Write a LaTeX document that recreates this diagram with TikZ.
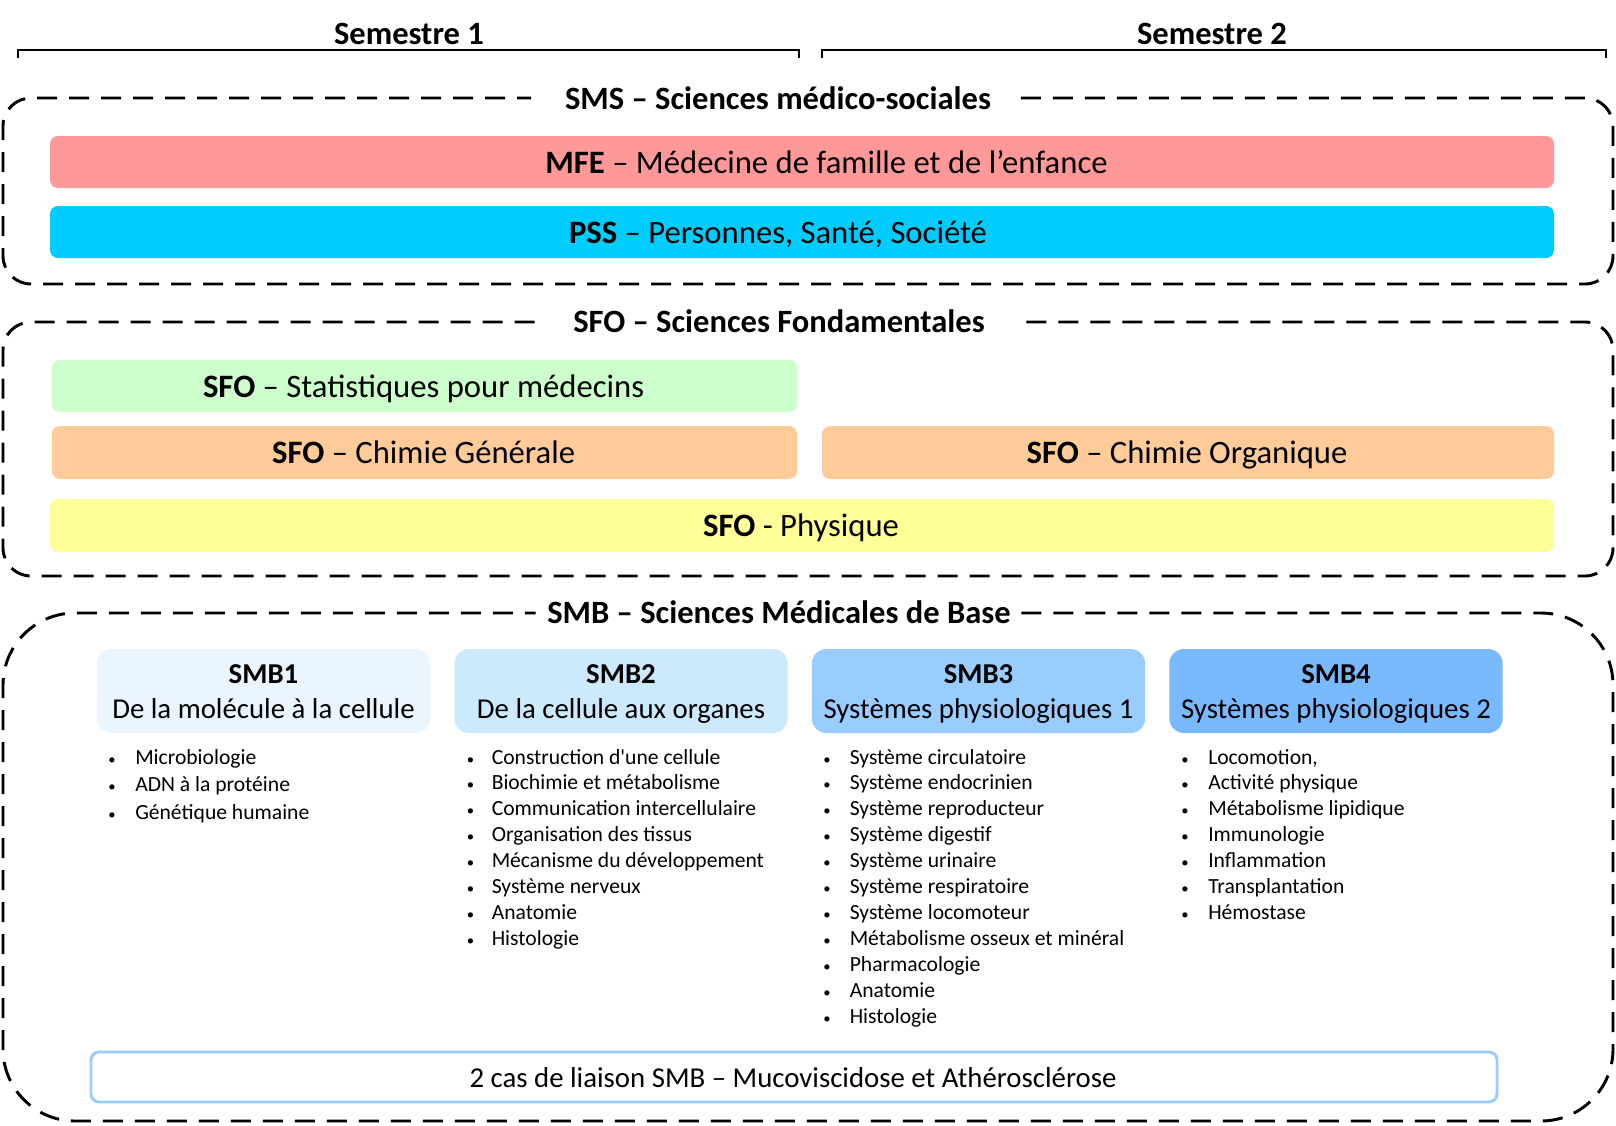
\documentclass[tikz,border=0pt]{standalone}
\usepackage{fontspec}
\setmainfont{Carlito}[Ligatures=TeXOff]
\definecolor{mfe}{HTML}{FF9999}
\definecolor{pss}{HTML}{00CCFF}
\definecolor{stat}{HTML}{CCFFCC}
\definecolor{chim}{HTML}{FFCC99}
\definecolor{phys}{HTML}{FFFF99}
\definecolor{smbA}{HTML}{EAF5FE}
\definecolor{smbB}{HTML}{CCE9FD}
\definecolor{smbC}{HTML}{99CCFF}
\definecolor{smbD}{HTML}{78B9FF}
\definecolor{liaison}{HTML}{99CCFF}
\begin{document}
\begin{tikzpicture}[x=0.75pt,y=-0.75pt,
  dbox/.style={draw=black,line width=2.2pt,dash pattern=on 15pt off 9pt},
  boxgap/.style={inner sep=0pt,minimum height=24pt},
  boxtitle/.style={anchor=base,inner sep=0pt,font=\fontsize{24.4}{28}\selectfont\bfseries},
  bar/.style={rounded corners=6pt,inner sep=0pt},
  bartext/.style={anchor=base,inner sep=0pt,font=\fontsize{24.5}{28}\selectfont},
  card/.style={rounded corners=11pt,inner sep=0pt,minimum width=250pt,minimum height=63pt},
  cardtext/.style={anchor=base,inner sep=0pt,font=\fontsize{21.6}{26}\selectfont},
  itemtext/.style={anchor=base west,inner sep=0pt,font=\fontsize{16.2}{19}\selectfont},
  dot/.style={anchor=base,inner sep=0pt,font=\fontsize{11}{13}\selectfont},
  semtitle/.style={anchor=base,inner sep=0pt,font=\fontsize{24.4}{28}\selectfont\bfseries},
  bracket/.style={line width=2pt}
]
\useasboundingbox (0,0) rectangle (1616,1125);

% Semestre brackets
\node[semtitle] (s1) at (409,44) {Semestre 1};
\node[semtitle] (s2) at (1212,44) {Semestre 2};
\coordinate (b1a) at (18,58); \coordinate (b1b) at (799,58);
\coordinate (b2a) at (822,58); \coordinate (b2b) at (1606,58);
\draw[bracket] (b1a) -- ++(0,-8) -| (b1b);
\draw[bracket] (b2a) -- ++(0,-8) -| (b2b);

% SMS box
\node[boxgap,minimum width=366.75pt] (smsgap) at (776,98) {};
\draw[dbox,rounded corners=21pt] (smsgap.east) -| (1613,284) -| (3,98) -- (smsgap.west);
\node[boxtitle] (sms) at (778,109.5) {SMS – Sciences médico-sociales};
\node[bar,fill=mfe,minimum width=1128pt,minimum height=39pt] (mfeb) at (802,162) {};
\node[bartext] (mfet) at (826.5,173) {\textbf{MFE} – Médecine de famille et de l’enfance};
\node[bar,fill=pss,minimum width=1128pt,minimum height=39pt] (pssb) at (802,232) {};
\node[bartext] (psst) at (778,243) {\textbf{PSS} – Personnes, Santé, Société};

% SFO box
\node[boxgap,minimum width=367.5pt] (sfogap) at (781,322) {};
\draw[dbox,rounded corners=21pt] (sfogap.east) -| (1613,576) -| (3,322) -- (sfogap.west);
\node[boxtitle] (sfo) at (779,332.7) {SFO – Sciences Fondamentales};
\node[bar,fill=stat,minimum width=559pt,minimum height=39pt] (statb) at (424.5,386) {};
\node[bartext] (statt) at (423.6,397) {\textbf{SFO} – Statistiques pour médecins};
\node[bar,fill=chim,minimum width=559pt,minimum height=39.75pt] (chgb) at (424.5,452.5) {};
\node[bartext] (chgt) at (423.6,463) {\textbf{SFO} – Chimie Générale};
\node[bar,fill=chim,minimum width=549pt,minimum height=39.75pt] (chob) at (1188,452.5) {};
\node[bartext] (chot) at (1187,463) {\textbf{SFO} – Chimie Organique};
\node[bar,fill=phys,minimum width=1128pt,minimum height=39.75pt] (physb) at (802,525.5) {};
\node[bartext] (phyt) at (801,536.5) {\textbf{SFO} - Physique};

% SMB box
\node[boxgap,minimum width=363.75pt] (smbgap) at (778.5,613) {};
\draw[dbox,rounded corners=54pt] (smbgap.east) -| (1613,1121) -| (3,613) -- (smbgap.west);
\node[boxtitle] (smb) at (779,623.7) {SMB – Sciences Médicales de Base};

\foreach \cx/\col/\ti/\sub [count=\k] in {263.5/smbA/SMB1/De la molécule à la cellule, 621/smbB/SMB2/De la cellule aux organes, 978.5/smbC/SMB3/Systèmes physiologiques 1, 1336/smbD/SMB4/Systèmes physiologiques 2} {
  \node[card,fill=\col] (c\k) at (\cx,691) {};
  \node[cardtext] (ct\k) at (\cx,683.5) {\textbf{\ti}};
  \node[cardtext] (cs\k) at (\cx,718.8) {\sub};
}

\foreach \t [count=\i] in {Microbiologie, ADN à la protéine, Génétique humaine} {
  \pgfmathsetmacro{\yy}{764+27.8*(\i-1)}
  \node[dot] (da\i) at (112,\yy) {•};
  \node[itemtext] (ia\i) at (135,\yy) {\t};
}
\foreach \t [count=\i] in {Construction d'une cellule, Biochimie et métabolisme, Communication intercellulaire, Organisation des tissus, Mécanisme du développement, Système nerveux, Anatomie, Histologie} {
  \pgfmathsetmacro{\yy}{764+25.9*(\i-1)}
  \node[dot] (db\i) at (470.5,\yy) {•};
  \node[itemtext] (ib\i) at (491.5,\yy) {\t};
}
\foreach \t [count=\i] in {Système circulatoire, Système endocrinien, Système reproducteur, Système digestif, Système urinaire, Système respiratoire, Système locomoteur, Métabolisme osseux et minéral, Pharmacologie, Anatomie, Histologie} {
  \pgfmathsetmacro{\yy}{764+25.9*(\i-1)}
  \node[dot] (dc\i) at (827,\yy) {•};
  \node[itemtext] (ic\i) at (849.5,\yy) {\t};
}
\foreach \t [count=\i] in {{Locomotion,}, Activité physique, Métabolisme lipidique, Immunologie, Inflammation, Transplantation, Hémostase} {
  \pgfmathsetmacro{\yy}{764+25.9*(\i-1)}
  \node[dot] (dd\i) at (1185,\yy) {•};
  \node[itemtext] (id\i) at (1208,\yy) {\t};
}

\node[draw=liaison,line width=2.2pt,rounded corners=6pt,fill=white,minimum width=1054.5pt,minimum height=37.5pt,inner sep=0pt] (lia) at (794,1077) {};
\node[cardtext] (liat) at (793,1087.5) {2 cas de liaison SMB – Mucoviscidose et Athérosclérose};
\end{tikzpicture}
\end{document}
